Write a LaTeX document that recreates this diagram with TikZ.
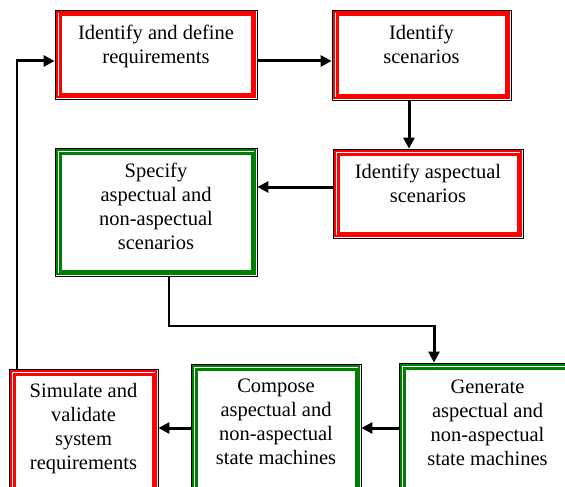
\documentclass[tikz,border=0pt]{standalone}
\usepackage{fontspec}
\setmainfont{Liberation Serif}
\newfontfamily\diagserif{Liberation Serif}
\usetikzlibrary{arrows.meta}
\definecolor{boxred}{RGB}{255,0,0}
\definecolor{boxgreen}{RGB}{0,128,0}
\tikzset{
  framebox/.style={rectangle, inner sep=0pt, draw=black, line width=0.8pt,
    path picture={
      \draw[#1, line width=1.6pt] ([shift={(2pt,-2pt)}]path picture bounding box.north west) rectangle ([shift={(-2pt,2pt)}]path picture bounding box.south east);
      \draw[#1, line width=3pt] ([shift={(5pt,-5pt)}]path picture bounding box.north west) rectangle ([shift={(-5pt,5pt)}]path picture bounding box.south east);
    }},
  redbox/.style={framebox=boxred},
  greenbox/.style={framebox=boxgreen},
  txt/.style={inner sep=0pt, align=center, anchor=north, font=\diagserif\fontsize{20.5pt}{24pt}\selectfont},
  flow/.style={line width=3pt, -{Triangle[length=11pt,width=11pt]}},
  thinline/.style={line width=1.2pt},
}
\begin{document}
\begin{tikzpicture}[x=1pt,y=-1pt]
\clip (0,0) rectangle (565,487);
\fill[white] (0,0) rectangle (565,487);
% boxes
\node[redbox, minimum width=202pt, minimum height=89pt] (b1) at (156,54.5) {};
\node[redbox, minimum width=179pt, minimum height=90pt] (b2) at (421.5,55) {};
\node[redbox, minimum width=190pt, minimum height=89pt] (b3) at (428,193.5) {};
\node[greenbox, minimum width=202pt, minimum height=128pt] (b4) at (156,212) {};
\node[redbox, minimum width=149pt, minimum height=130pt] (b5) at (83.5,434) {};
\node[greenbox, minimum width=170pt, minimum height=135pt] (b6) at (276,431.5) {};
\node[greenbox, minimum width=177pt, minimum height=136pt] (b7) at (487.5,431) {};
% texts
\node[txt] (t1) at ([yshift=-15pt]b1.north) {Identify and define\\requirements};
\node[txt] (t2) at ([yshift=-15pt]b2.north) {Identify\\scenarios};
\node[txt] (t3) at ([yshift=-15pt]b3.north) {Identify aspectual\\scenarios};
\node[txt] (t4) at ([yshift=-15pt]b4.north) {Specify\\aspectual and\\non-aspectual\\scenarios};
\node[txt] (t5) at ([yshift=-14pt]b5.north) {Simulate and\\validate\\system\\requirements};
\node[txt] (t6) at ([yshift=-15pt]b6.north) {Compose\\aspectual and\\non-aspectual\\state machines};
\node[txt] (t7) at ([yshift=-17pt]b7.north) {Generate\\aspectual and\\non-aspectual\\state machines};
% connector coordinates
\coordinate (y1) at (0,61);
\coordinate (x2) at (409,0);
\coordinate (y3) at (0,187);
\coordinate (c0) at (169,326);
\coordinate (c1) at (434,326);
\coordinate (y6) at (0,428);
\coordinate (c2) at (17,61);
% connectors
\draw[flow] (b1.east |- y1) -- (b2.west |- y1);
\draw[flow] (b2.south -| x2) -- (b3.north -| x2);
\draw[flow] (b3.west |- y3) -- (b4.east |- y3);
\draw[thinline] (b4.south -| c0) -- (c0) -- (c1);
\draw[flow] ([yshift=0.6pt]c1) -- (b7.north -| c1);
\draw[flow] (b7.west |- y6) -- (b6.east |- y6);
\draw[flow] (b6.west |- y6) -- (b5.east |- y6);
\draw[thinline] (b5.north -| c2) -- (c2);
\draw[flow] ([xshift=-0.6pt]c2) -- (b1.west |- c2);
\end{tikzpicture}
\end{document}
